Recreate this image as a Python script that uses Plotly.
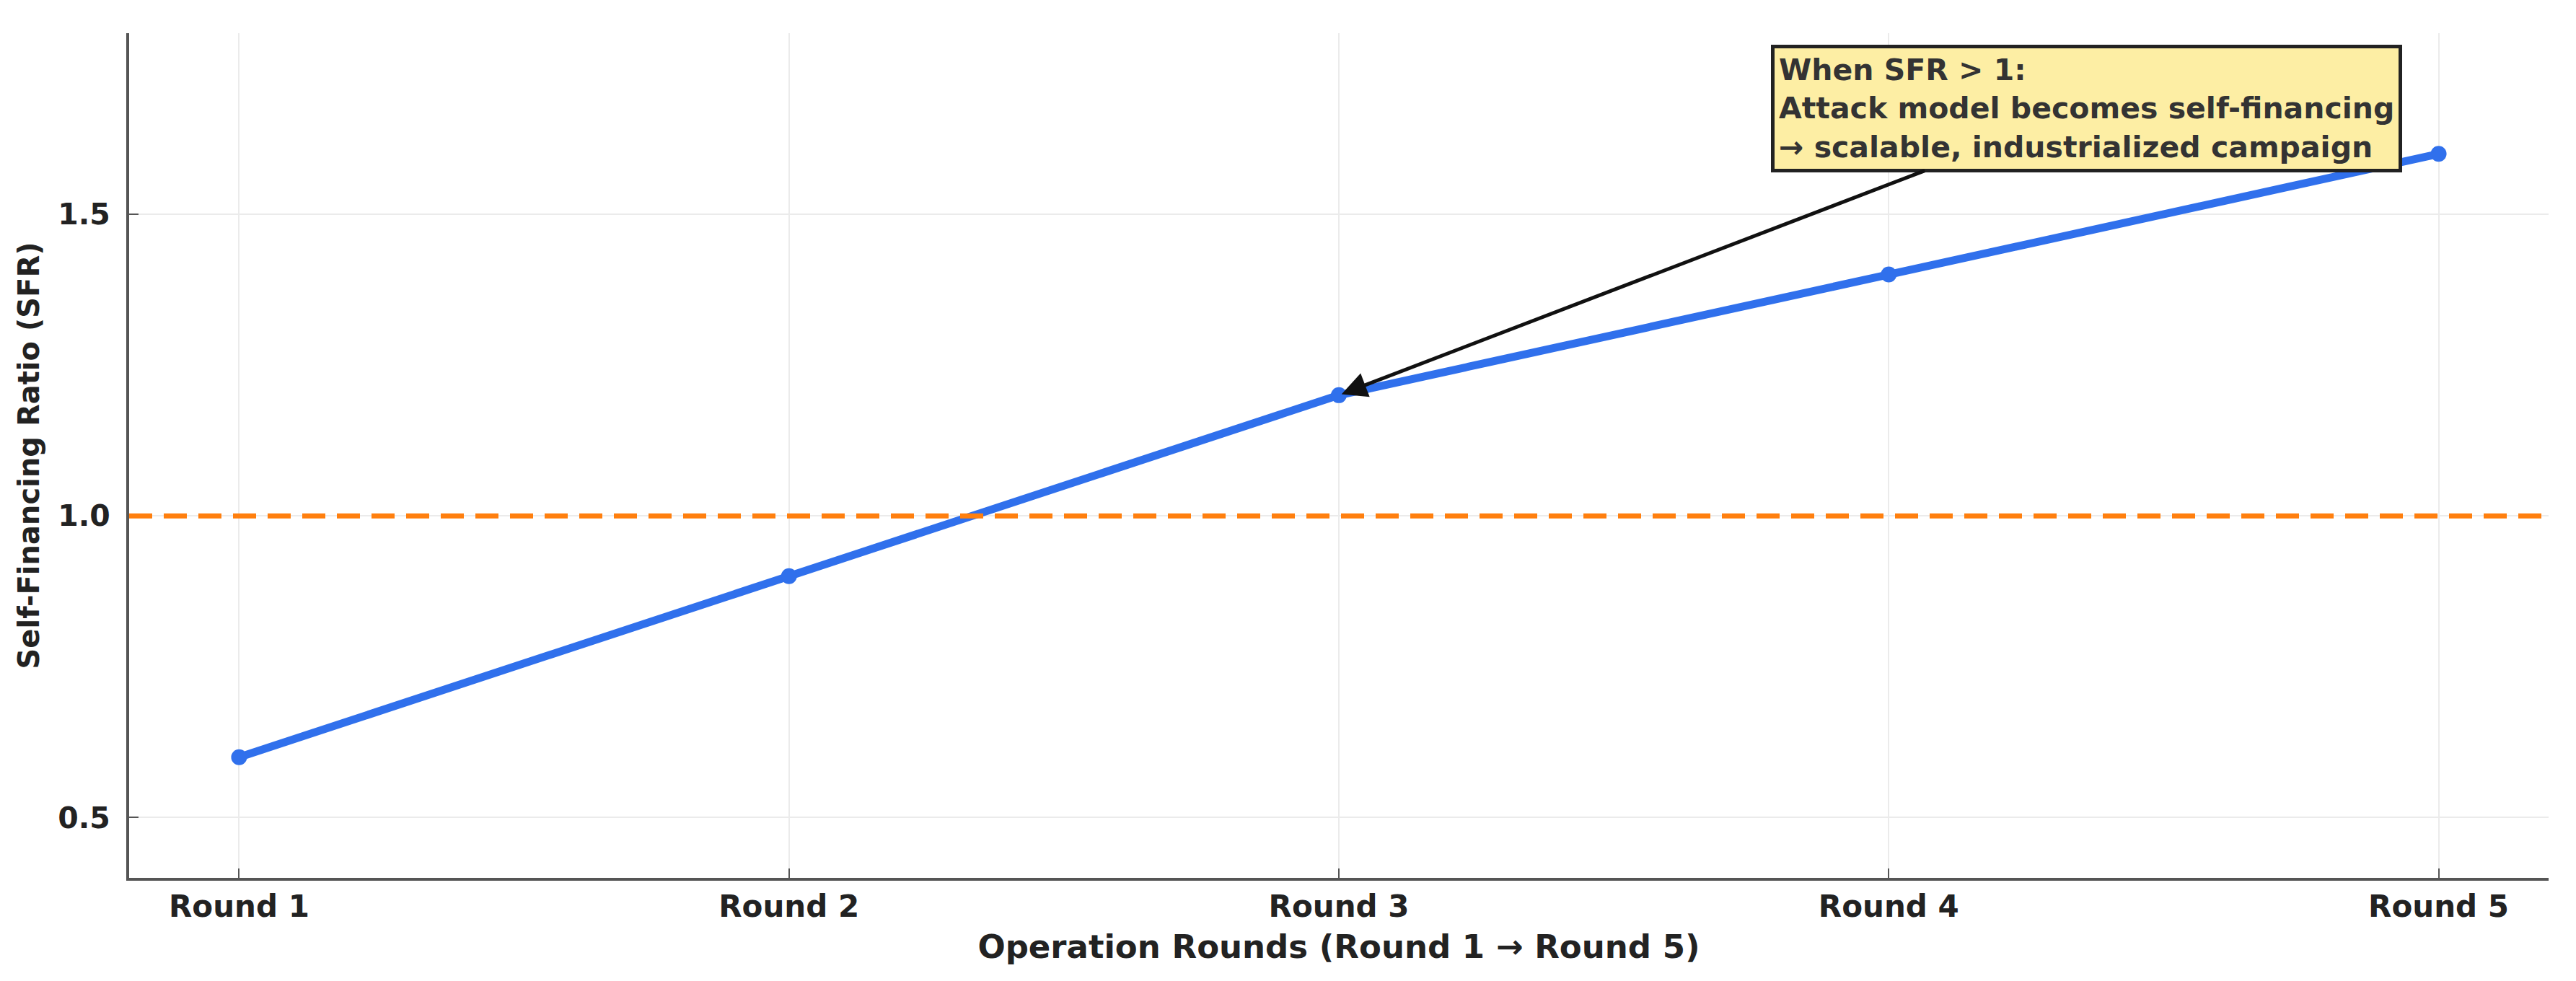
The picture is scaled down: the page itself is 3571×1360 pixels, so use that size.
import plotly.graph_objects as go

rounds = ["Round 1", "Round 2", "Round 3", "Round 4", "Round 5"]
sfr = [0.6, 0.9, 1.2, 1.4, 1.6]
threshold = 1.0
y_ticks = [0.5, 1.0, 1.5]
annot_text = ("When SFR > 1:<br>Attack model becomes self-financing"
              "<br>→ scalable, industrialized campaign")
annot_point = 2          # index of Round 3
annot_box_x = 3.36
annot_box_y = 1.675

xs = list(range(len(rounds)))
FONT = "DejaVu Sans"

fig = go.Figure()
fig.add_hline(y=threshold, line=dict(color="#FF7F0E", width=7, dash="32px,16px"), layer="above")
fig.add_trace(go.Scatter(
    x=xs, y=sfr, mode="lines+markers",
    line=dict(color="#3070EC", width=11),
    marker=dict(color="#3070EC", size=22),
    showlegend=False,
))

fig.add_annotation(
    x=annot_point, y=sfr[annot_point], xref="x", yref="y",
    ax=annot_box_x, ay=annot_box_y, axref="x", ayref="y",
    text="<b>" + annot_text + "</b>", align="left", showarrow=True,
    arrowhead=2, arrowsize=1.4, arrowwidth=5, arrowcolor="#111111", standoff=4,
    font=dict(family=FONT, size=41, color="#333333"),
    bgcolor="#FDEEA4", bordercolor="#222222", borderwidth=5, borderpad=6,
)

axis_common = dict(
    showline=True, linecolor="#555555", linewidth=4,
    ticks="inside", ticklen=13, tickwidth=2, tickcolor="#555555",
    showgrid=True, gridcolor="#EBEBEB", gridwidth=2, zeroline=False,
)

fig.update_xaxes(
    range=[-0.2, 4.2], tickvals=xs, ticktext=rounds, ticklabelstandoff=0,
    tickfont=dict(family=FONT, size=42, color="#222222", weight="bold"),
    title=dict(text="Operation Rounds (Round 1 → Round 5)", standoff=17,
               font=dict(family=FONT, size=45, color="#222222", weight="bold")),
    **axis_common,
)
fig.update_yaxes(
    range=[0.4, 1.8], tickvals=y_ticks, tickformat=".1f", ticklabelstandoff=14,
    tickfont=dict(family=FONT, size=41, color="#222222", weight="bold"),
    title=dict(text="Self-Financing Ratio (SFR)", standoff=14,
               font=dict(family=FONT, size=40, color="#222222", weight="bold")),
    **axis_common,
)

fig.update_layout(
    width=3571, height=1360,
    margin=dict(l=171, r=46, t=38, b=151),
    plot_bgcolor="white", paper_bgcolor="white",
    font=dict(family=FONT),
)

fig.write_html("out.html")
